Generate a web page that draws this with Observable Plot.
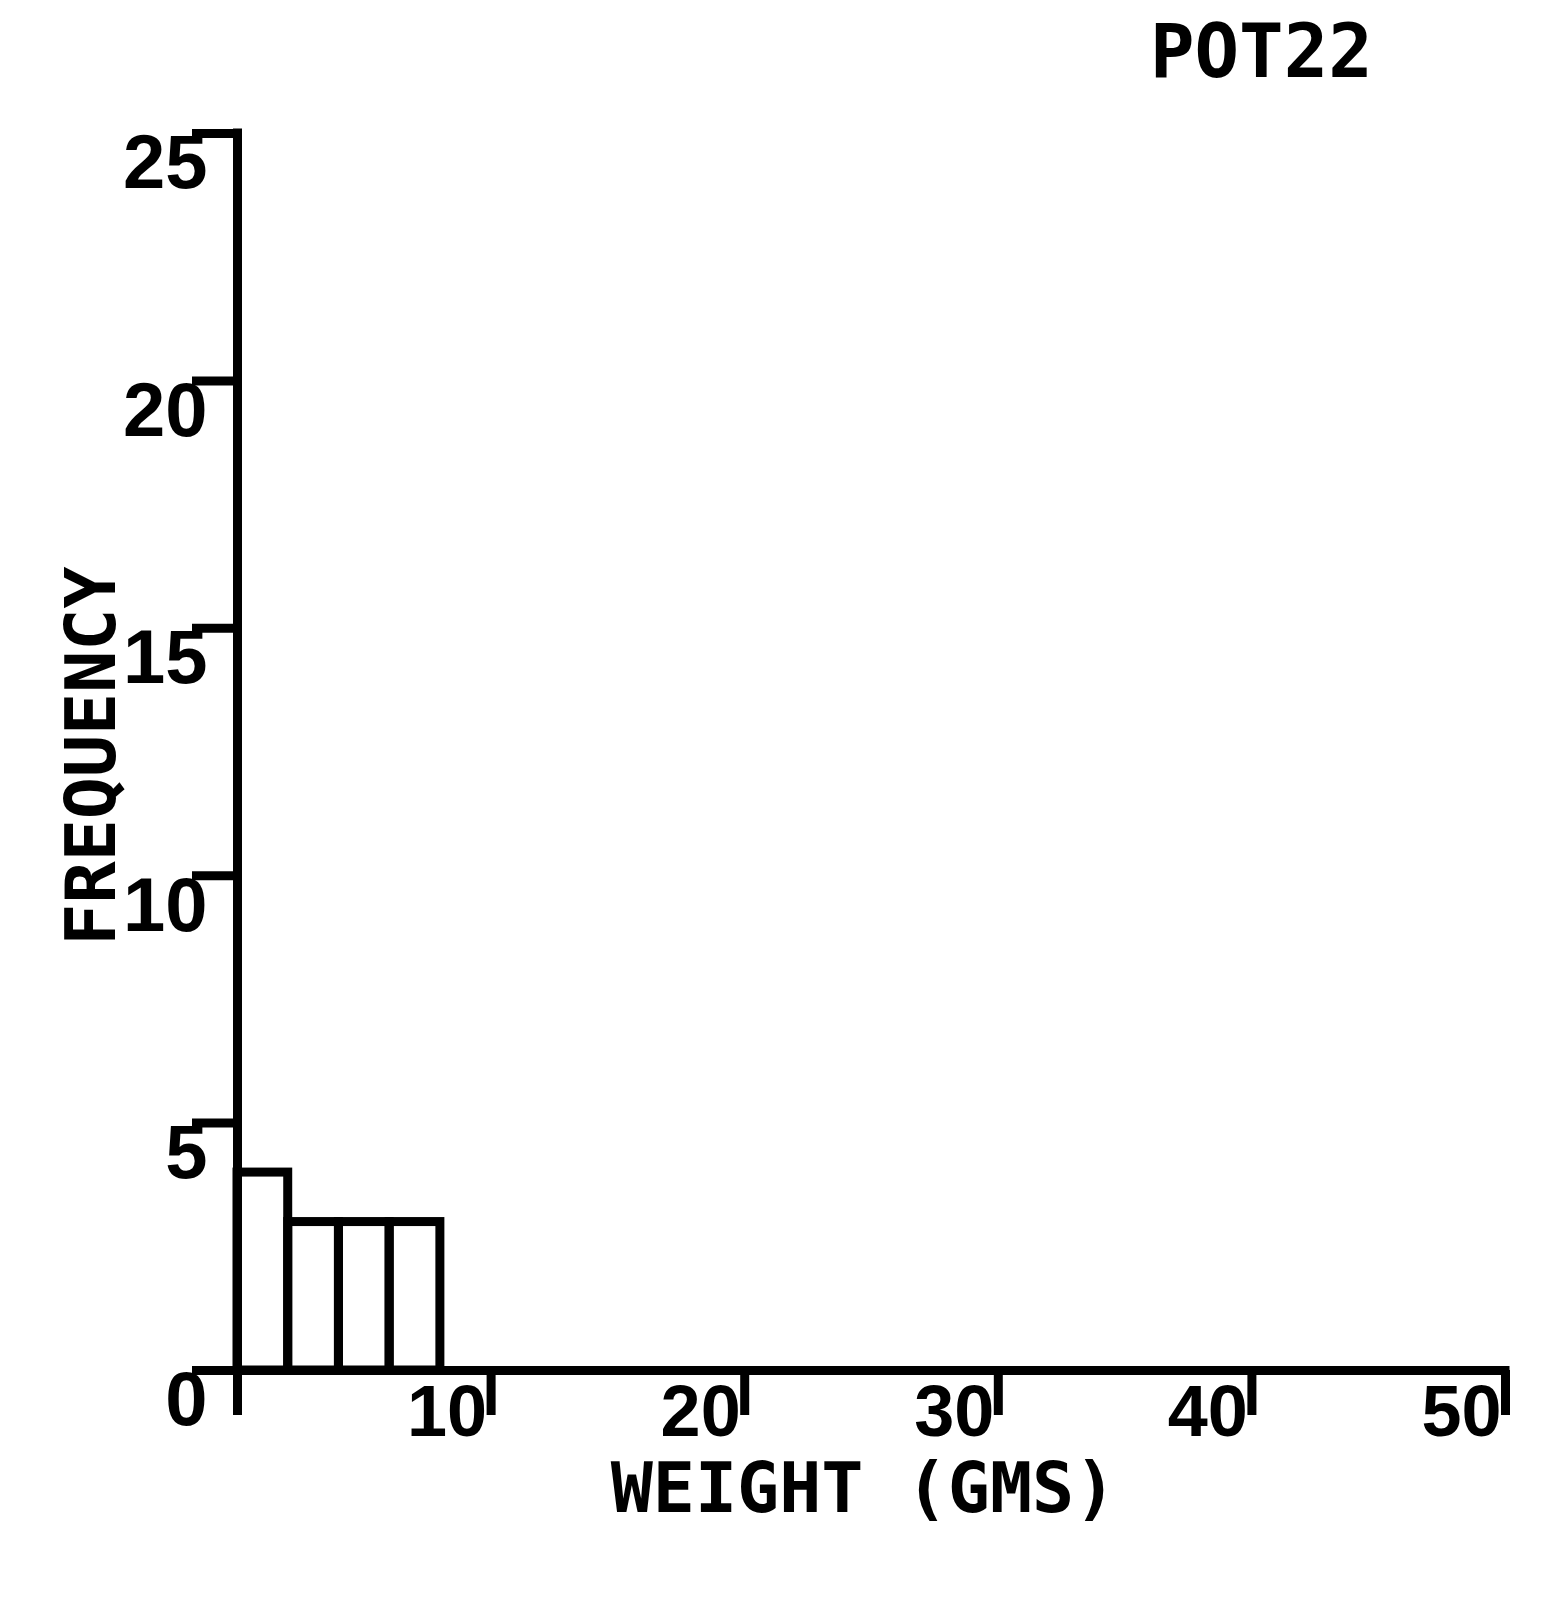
<!DOCTYPE html>
<html>
<head>
<meta charset="utf-8">
<script src="https://cdn.jsdelivr.net/npm/d3@7"></script>
<script src="https://cdn.jsdelivr.net/npm/@observablehq/plot@0.6"></script>
<style>
  html, body { margin: 0; padding: 0; background: #fff; }
  #wrap { position: relative; width: 1560px; height: 1598px; }
  #title { position: absolute; left: 1150px; top: 14px; font: bold 74px/1 "DejaVu Sans Mono", monospace; color: #000; }
  #chart { position: absolute; left: 0; top: 0; }
</style>
</head>
<body>
<div id="wrap">
  <div id="chart"></div>
  <div id="title">POT22</div>
</div>
<script>
const binStart = [0, 2, 4, 6];
const binEnd = [2, 4, 6, 8];
const frequency = [4, 3, 3, 3];
const xTicks = [0, 10, 20, 30, 40, 50];
const xTickLabels = [10, 20, 30, 40, 50];
const yTicks = [0, 5, 10, 15, 20, 25];
const xLabel = "WEIGHT (GMS)";
const yLabel = "FREQUENCY";

const bins = binStart.map((s, i) => ({x1: s, x2: binEnd[i], freq: frequency[i]}));
const SW = 9;
const labelFont = {fontFamily: "DejaVu Sans Mono", fontWeight: "bold"};
const tickFont = {fontFamily: "Liberation Sans", fontWeight: "bold"};

const chart = Plot.plot({
  width: 1560,
  height: 1598,
  marginLeft: 237,
  marginRight: 55,
  marginTop: 133,
  marginBottom: 228,
  style: {fontFamily: "DejaVu Sans Mono", fontWeight: "bold", background: "white", color: "black"},
  x: {domain: [0, 50], label: null},
  y: {domain: [0, 25], label: null},
  marks: [
    Plot.rectY(bins, {x1: "x1", x2: "x2", y: "freq", fill: "none", stroke: "black", strokeWidth: SW, inset: 0}),
    Plot.axisY(yTicks, {tickSize: 45, strokeWidth: SW, tickFormat: () => "", label: null}),
    Plot.axisY(yTicks, {tickSize: 0, tickPadding: 30, lineAnchor: "top", textAnchor: "end", dy: 1, fontSize: 76, label: null, ...tickFont}),
    Plot.axisX(xTicks, {tickSize: 45, strokeWidth: SW, tickFormat: () => "", label: null}),
    Plot.axisX(xTickLabels, {tickSize: 0, tickPadding: 14, lineAnchor: "top", textAnchor: "end", dx: -4, fontSize: 72, label: null, ...tickFont}),
    Plot.ruleY([0], {stroke: "black", strokeWidth: SW, strokeLinecap: "square"}),
    Plot.ruleX([0], {stroke: "black", strokeWidth: SW, strokeLinecap: "square"}),
    Plot.text([xLabel], {frameAnchor: "bottom", lineAnchor: "top", dy: 92, dx: -8, fontSize: 70, ...labelFont}),
    Plot.text([yLabel], {frameAnchor: "left", textAnchor: "middle", rotate: -90, dx: -145, dy: 4, fontSize: 70, ...labelFont})
  ]
});
document.getElementById("chart").appendChild(chart);
</script>
</body>
</html>
